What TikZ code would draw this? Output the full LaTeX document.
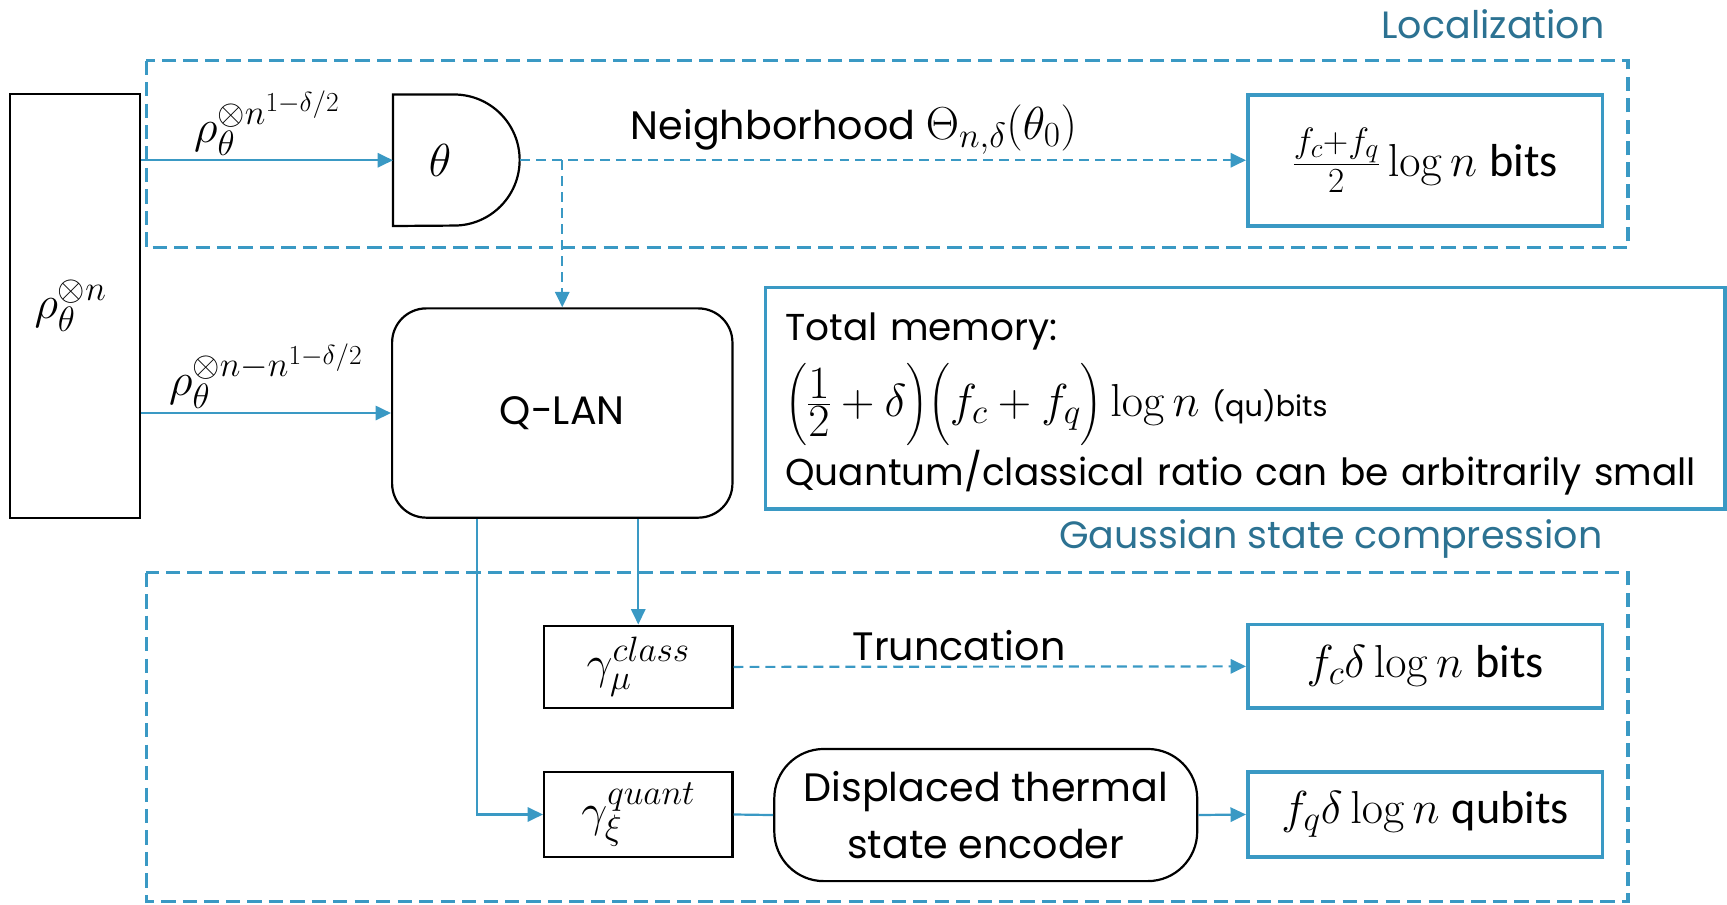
\RequirePackage{fix-cm}
\documentclass[tikz,border=0pt]{standalone}
\usepackage{amsmath}
\usepackage[no-math]{fontspec}
\setmainfont{Poppins}
\newfontfamily\calfont{Carlito}
\usetikzlibrary{arrows.meta,positioning,calc}
\definecolor{lineblue}{RGB}{58,153,196}
\definecolor{headblue}{RGB}{44,114,146}
\DeclareMathSizes{42}{42}{32}{25}
\DeclareMathSizes{36}{36}{28}{22}
\newcommand{\mathsize}{\fontsize{42}{50}\selectfont}

\begin{document}
\begin{tikzpicture}[x=1pt, y=-1pt, >={Triangle[length=14pt,width=13pt]},
    txt/.style={font=\fontsize{36}{44}\selectfont},
    blk/.style={draw=black, line width=2pt},
    outbox/.style={draw=lineblue, line width=3.5pt, font=\mathsize},
    arr/.style={->, draw=lineblue, line width=2pt},
    darr/.style={arr, dash pattern=on 9pt off 5.5pt},
    region/.style={draw=lineblue, line width=3pt, dash pattern=on 13pt off 6.5pt},
    head/.style={text=headblue, font=\fontsize{34.5}{42}\selectfont, inner sep=0pt}]
  \useasboundingbox (0,0) rectangle (1568,821);

  % the two dashed regions
  \draw[region] (133,55) rectangle (1478,225);
  \draw[region] (133,520) rectangle (1478,818.5);
  \node[head, anchor=east] (loctitle) at (1457,22) {Localization};
  \node[head, anchor=east] (gsctitle) at (1455,489) {Gaussian state compression};

  % input and localization
  \node[blk, minimum width=118pt, minimum height=385pt, font=\mathsize] (src) at (68,277.5) {$\rho_\theta^{\otimes n}$\kern8pt};
  \node[minimum width=115pt, minimum height=119pt, font=\mathsize] (meas) at (414.5,145.5) {$\theta$\kern30pt};
  \draw[blk] (meas.north west) -- ++(55.5,0) arc[start angle=90, end angle=-90, radius=59.5pt] -- (meas.south west) -- cycle;
  \node[blk, rounded corners=31pt, minimum width=309pt, minimum height=190pt, txt] (qlan) at (510.5,375) {Q-LAN};
  \node[outbox, minimum width=322pt, minimum height=119pt] (out1) at (1294,145.5) {$\frac{f_c+f_q}{2}\log n$ \calfont bits};

  \node[draw=lineblue, line width=3.5pt, minimum width=871pt, minimum height=201pt, text width=835pt, align=left, font=\fontsize{34}{65}\selectfont] (memo) at (1130.5,361.5)
    {\rule{0pt}{36pt}Total memory:\\[4pt]
     {\mathsize$\Bigl(\tfrac{\textstyle 1}{\textstyle 2}+\delta\Bigr)\Bigl(f_c+f_q\Bigr)\log n$} {\fontsize{26}{30}\selectfont (qu)bits}\\[-2pt]
     Quantum/classical ratio can be arbitrarily small};

  \draw[arr] (src.east |- meas.west) -- node[above, inner sep=3pt, font=\mathsize] (lblA) {$\rho_\theta^{\otimes n^{1-\delta/2}}$} (meas.west);
  \draw[arr] (src.east |- qlan.west) -- node[above, inner sep=3pt, font=\mathsize] (lblB) {$\rho_\theta^{\otimes n-n^{1-\delta/2}}$} (qlan.west);
  \coordinate (split) at (qlan.north |- meas.east);
  \draw[darr] (meas.east) -- node[above, pos=0.46, inner sep=4pt, txt] (nbhd) {Neighborhood {\mathsize$\Theta_{n,\delta}(\theta_0)$}} (out1.west);
  \draw[darr] (split) -- (qlan.north);

  % gaussian state compression
  \node[blk, minimum width=171pt, minimum height=75pt, font=\mathsize] (gmu) at (579.5,605.5) {$\gamma_\mu^{class}$};
  \node[blk, minimum width=171pt, minimum height=77pt, font=\mathsize] (gxi) at (579.5,739.5) {$\gamma_\xi^{quant}$};
  \node[blk, rounded corners=45pt, minimum width=384pt, minimum height=120pt, align=center, font=\fontsize{36}{52}\selectfont] (enc) at (895,740) {Displaced thermal\\state encoder};
  \node[outbox, minimum width=322pt, minimum height=76pt] (out2) at (1294,605) {$f_c\delta\log n$ \calfont bits};
  \node[outbox, minimum width=322pt, minimum height=77pt] (out3) at (1294,739.5) {$f_q\delta\log n$ \calfont qubits};

  \draw[arr] (gmu.north |- qlan.south) -- (gmu.north);
  \draw[arr] ([xshift=-77.5pt]qlan.south) |- (gxi.west);
  \draw[darr] (gmu.east) -- node[above, pos=0.44, inner sep=4pt, txt] (trunc) {Truncation} (out2.west);
  \draw[lineblue, line width=2pt] (gxi.east) -- (enc.west);
  \draw[arr] (enc.east) -- (out3.west);
\end{tikzpicture}
\end{document}
